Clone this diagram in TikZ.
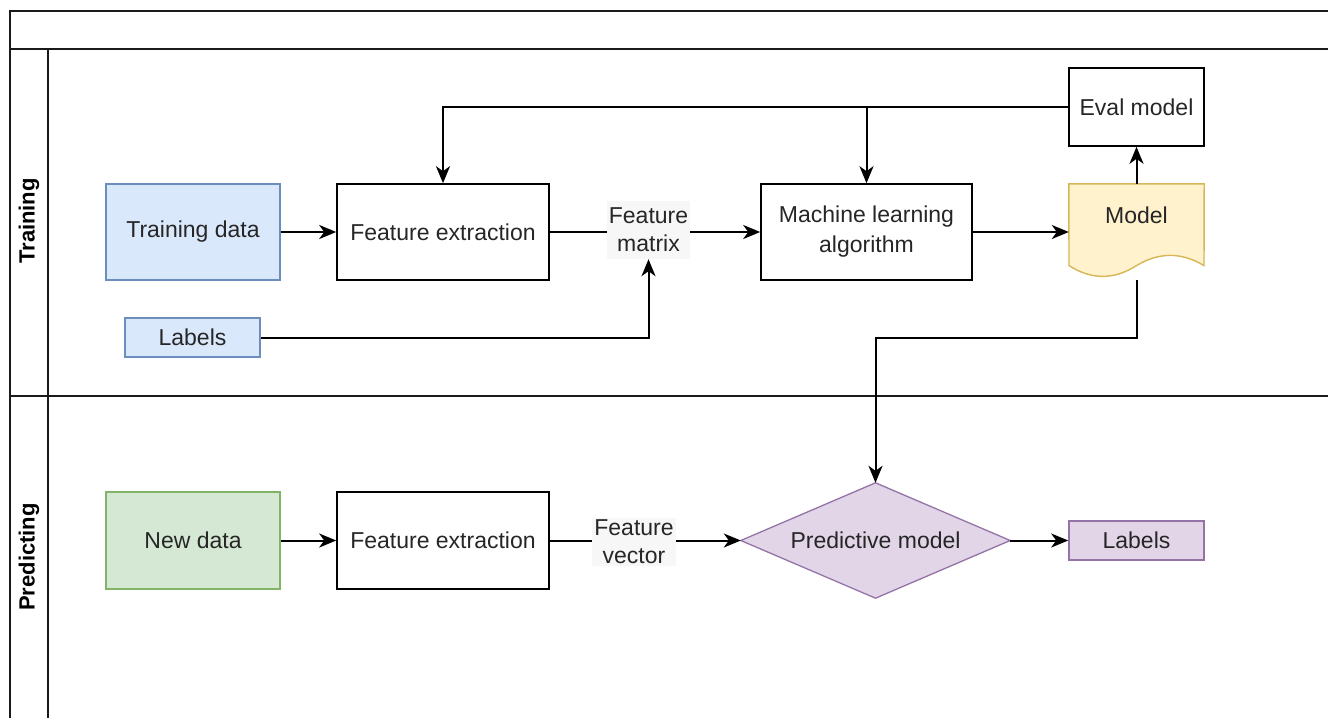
\documentclass[tikz,border=0pt]{standalone}
\usepackage{fontspec}
\setmainfont{Liberation Sans}
\usetikzlibrary{shapes.geometric,arrows.meta}
\definecolor{bluefill}{HTML}{DAE8FC}
\definecolor{bluestroke}{HTML}{6C8EBF}
\definecolor{greenfill}{HTML}{D5E8D4}
\definecolor{greenstroke}{HTML}{82B366}
\definecolor{purplefill}{HTML}{E1D5E7}
\definecolor{purplestroke}{HTML}{9673A6}
\definecolor{yellowfill}{HTML}{FFF2CC}
\definecolor{yellowstroke}{HTML}{D6B656}
\definecolor{txt}{HTML}{262626}
\definecolor{labbg}{HTML}{F7F7F7}
\definecolor{framecol}{HTML}{1A1A1A}
\begin{document}
\begin{tikzpicture}[x=1pt,y=-1pt,
  frame/.style={draw=framecol, line width=1.8pt},
  box/.style={draw=black, line width=1.6pt, text=txt, align=center, inner sep=0pt,
    font=\fontsize{23}{30}\selectfont},
  elabel/.style={fill=labbg, text=txt, align=center, inner sep=2pt,
    font=\fontsize{23}{28}\selectfont},
  lanetitle/.style={rotate=90, text=black, font=\bfseries\fontsize{22}{26}\selectfont},
  conn/.style={draw=black, line width=2pt},
  arr/.style={conn, -{Stealth[length=17pt,width=14pt,inset=5pt]}}
]
\useasboundingbox (0,0) rectangle (1328,718);
% pool frame
\draw[frame] (1328,11) -- (10,11) -- (10,718);
\draw[frame] (10,49) -- (1328,49);
\draw[frame] (48,49) -- (48,718);
\draw[frame] (10,396) -- (1328,396);
\node[lanetitle] (lt) at (29,221) {Training};
\node[lanetitle] (lp) at (29,557) {Predicting};

% training lane
\node[box, fill=bluefill, draw=bluestroke, minimum width=174pt, minimum height=96pt] (td) at (193,232) {Training data};
\node[box, minimum width=212pt, minimum height=96pt] (fe1) at (443,232) {Feature extraction};
\node[box, minimum width=211pt, minimum height=96pt] (ml) at (866.5,232) {Machine learning\\algorithm};
\node[minimum width=135pt, minimum height=96pt, inner sep=0pt] (model) at (1136.5,232) {};
\filldraw[fill=yellowfill, draw=yellowstroke, line width=1.4pt]
  (model.north west) -- (model.north east) -- (1204,265.6)
  .. controls (1181.5,252) and (1159,252) .. (1136.5,265.6)
  .. controls (1114,280) and (1091.5,280) .. (1069,265.6) -- cycle;
\node[text=txt, font=\fontsize{23}{30}\selectfont] (modeltxt) at (1136.5,215) {Model};
\node[box, minimum width=135pt, minimum height=78pt] (eval) at (1136.5,107) {Eval model};
\node[box, fill=bluefill, draw=bluestroke, minimum width=135pt, minimum height=39pt] (lab1) at (192.5,337.5) {Labels};
\node[elabel, minimum height=58pt] (fm) at (648.5,230) {Feature\\matrix};

\draw[arr] (td.east) -- (fe1.west);
\draw[conn] (fe1.east) -- (fm.west |- fe1.east);
\draw[arr] (fm.east |- ml.west) -- (ml.west);
\draw[arr] (lab1.east) -| (fm.south);
\draw[arr] (ml.east) -- (model.west);
\draw[arr] (model.north) -- (eval.south);
\draw[arr] (eval.west) -| (fe1.north);
\draw[arr] (eval.west) -| (ml.north);

% predicting lane
\node[box, fill=greenfill, draw=greenstroke, minimum width=174pt, minimum height=97pt] (nd) at (193,540.5) {New data};
\node[box, minimum width=212pt, minimum height=97pt] (fe2) at (443,540.5) {Feature extraction};
\node[elabel] (fv) at (634,542) {Feature\\vector};
\node[minimum width=269pt, minimum height=115pt, inner sep=0pt] (pm) at (875.5,540.5) {};
\filldraw[fill=purplefill, draw=purplestroke, line width=1.3pt]
  (pm.north) -- (pm.east) -- (pm.south) -- (pm.west) -- cycle;
\node[text=txt, font=\fontsize{23}{30}\selectfont] (pmtxt) at (pm.center) {Predictive model};
\node[box, fill=purplefill, draw=purplestroke, minimum width=135pt, minimum height=39pt] (lab2) at (1136.5,540.5) {Labels};

\draw[arr] (nd.east) -- (fe2.west);
\draw[conn] (fe2.east) -- (fv.west |- fe2.east);
\draw[arr] (fv.east |- pm.west) -- (pm.west);
\draw[arr] (pm.east) -- (lab2.west);
\draw[arr] (model.south) -- ++(0,58) -| (pm.north);
\end{tikzpicture}
\end{document}
